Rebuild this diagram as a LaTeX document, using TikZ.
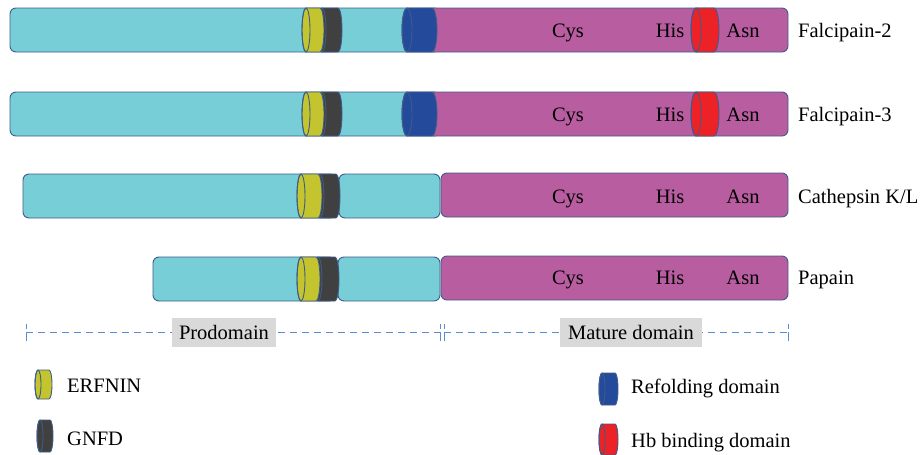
\documentclass[tikz,border=0pt]{standalone}
\usepackage{fontspec}
\setmainfont{Liberation Serif}
\definecolor{edge}{RGB}{62,92,138}
\definecolor{pcyan}{RGB}{120,206,215}
\definecolor{pmag}{RGB}{183,93,160}
\definecolor{pyel}{RGB}{196,196,46}
\definecolor{pdark}{RGB}{64,64,64}
\definecolor{pblue}{RGB}{36,74,156}
\definecolor{pred}{RGB}{236,34,38}
\definecolor{lbl}{RGB}{217,217,217}
\definecolor{dimc}{RGB}{91,139,208}
\newcommand{\drum}[6]{%
  \path[fill=#6,draw=edge,line width=0.9pt] ({#1+#5},#3) -- ({#2-#5},#3)
    arc[start angle=-90,end angle=90,x radius=#5,y radius={(#4-#3)/2}]
    -- ({#1+#5},#4)
    arc[start angle=90,end angle=270,x radius=#5,y radius={(#4-#3)/2}] -- cycle;
  \draw[edge,line width=0.9pt] ({#1+#5},{(#3+#4)/2}) ellipse[x radius=#5,y radius={(#4-#3)/2}];
}
\tikzset{
  protbar/.style={draw=edge,line width=0.9pt,rounded corners=6pt},
  txtbase/.style={font=\fontsize{20.5}{24}\selectfont,inner sep=0pt,text=black},
  restext/.style={txtbase,anchor=base},
  protname/.style={txtbase,anchor=base west},
  dimline/.style={draw=dimc,line width=0.9pt,dash pattern=on 7pt off 5pt},
  dimtick/.style={draw=dimc,line width=0.9pt,dash pattern=on 9pt off 3pt},
  tagbox/.style={txtbase,fill=lbl,minimum width=#1,minimum height=29pt,anchor=center},
}
\begin{document}
\begin{tikzpicture}[x=1pt,y=-1pt]
\useasboundingbox (0,0) rectangle (924,455);

% Row 1: Falcipain-2
\draw[protbar,fill=pcyan] (10,8) rectangle (440,52);
\draw[protbar,fill=pmag] (428,8) rectangle (788,52);
\drum{318}{342}{8}{52}{4}{pdark}
\drum{302}{324}{8}{52}{4}{pyel}
\drum{402}{437}{8}{52}{5}{pblue}
\drum{691}{719}{8}{52}{5}{pred}
\node[restext] (c1) at (568,37) {Cys};
\node[restext] (h1) at (670,37) {His};
\node[restext] (a1) at (743,37) {Asn};
\node[protname] (n1) at (798,37) {Falcipain-2};

% Row 2: Falcipain-3
\draw[protbar,fill=pcyan] (10,92) rectangle (440,136);
\draw[protbar,fill=pmag] (428,92) rectangle (788,136);
\drum{318}{342}{92}{136}{4}{pdark}
\drum{302}{324}{92}{136}{4}{pyel}
\drum{402}{437}{92}{136}{5}{pblue}
\drum{691}{719}{92}{136}{5}{pred}
\node[restext] (c2) at (568,121) {Cys};
\node[restext] (h2) at (670,121) {His};
\node[restext] (a2) at (743,121) {Asn};
\node[protname] (n2) at (798,121) {Falcipain-3};

% Row 3: Cathepsin K/L
\draw[protbar,fill=pcyan] (23,174) rectangle (336,218);
\draw[protbar,fill=pcyan] (339,174) rectangle (440,218);
\draw[protbar,fill=pmag] (441,173) rectangle (788,217);
\drum{316}{340}{174}{218}{4}{pdark}
\drum{297}{322}{174}{218}{4}{pyel}
\node[restext] (c3) at (568,203) {Cys};
\node[restext] (h3) at (670,203) {His};
\node[restext] (a3) at (743,203) {Asn};
\node[protname] (n3) at (798,203) {Cathepsin K/L};

% Row 4: Papain
\draw[protbar,fill=pcyan] (153,257) rectangle (335,301);
\draw[protbar,fill=pcyan] (338,257) rectangle (440,301);
\draw[protbar,fill=pmag] (441,256) rectangle (788,300);
\drum{314}{339}{257}{301}{4}{pdark}
\drum{297}{320}{257}{301}{4}{pyel}
\node[restext] (c4) at (568,284) {Cys};
\node[restext] (h4) at (670,284) {His};
\node[restext] (a4) at (743,284) {Asn};
\node[protname] (n4) at (798,284) {Papain};

% Domain extents
\coordinate (pl) at (26,332);
\coordinate (pr) at (440,332);
\coordinate (ml) at (444,332);
\coordinate (mr) at (788,332);
\draw[dimline] (pl) -- (pr);
\draw[dimline] (ml) -- (mr);
\foreach \p in {pl,pr,ml,mr}{\draw[dimtick] ([yshift=-9pt]\p) -- ([yshift=8pt]\p);}
\node[tagbox=104pt] (pro) at (224,332.5) {Prodomain};
\node[tagbox=142pt] (mat) at (631,332.5) {Mature domain};

% Legend
\drum{35}{52}{370}{399}{3}{pyel}
\node[protname] (l1) at (67,392) {ERFNIN};
\drum{37}{53}{420}{452}{3}{pdark}
\node[protname] (l2) at (67,445) {GNFD};
\drum{599}{618}{373}{405}{3}{pblue}
\node[protname] (l3) at (631,393) {Refolding domain};
\drum{599}{618}{424}{455}{3}{pred}
\node[protname] (l4) at (631,447) {Hb binding domain};
\end{tikzpicture}
\end{document}
